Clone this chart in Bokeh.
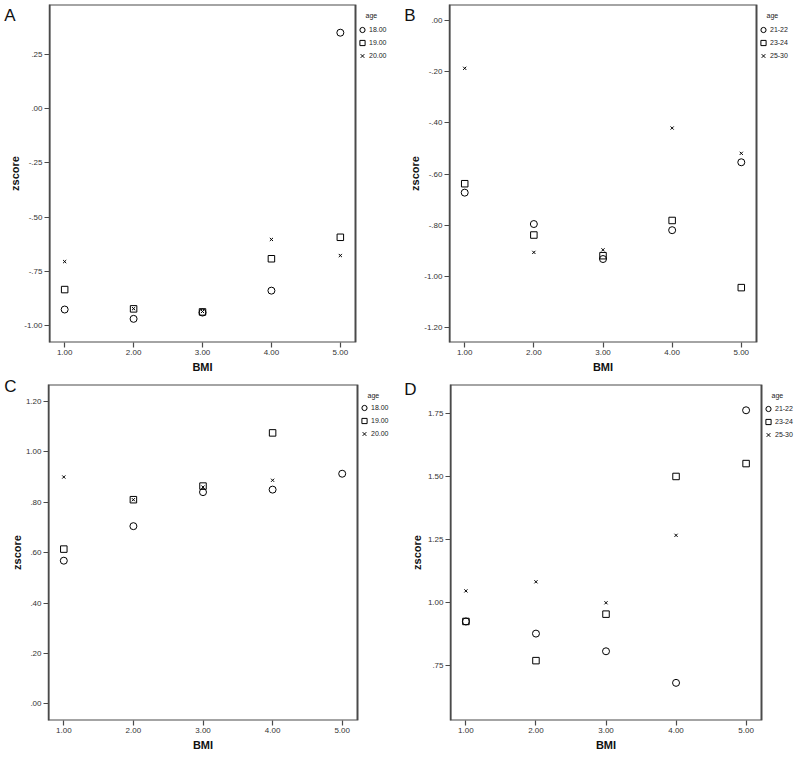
import numpy as np
from bokeh.plotting import figure
from bokeh.models import (Range1d, FixedTicker, Legend, LegendItem, LinearAxis,
                          BoxAnnotation, Label)
from bokeh.layouts import column, row
from bokeh.embed import file_html
from bokeh.resources import INLINE

nan = np.nan

# ---------------- data ----------------
bmi = [1, 2, 3, 4, 5]
x_ticks = [1, 2, 3, 4, 5]
x_tick_labels = ["1.00", "2.00", "3.00", "4.00", "5.00"]

# Panel A (age 18.00 / 19.00 / 20.00)
a_groups = ["18.00", "19.00", "20.00"]
a_circle = [-0.926, -0.969, -0.940, -0.839, 0.350]
a_square = [-0.834, -0.923, -0.937, -0.692, -0.593]
a_cross = [-0.705, -0.922, -0.935, -0.603, -0.677]
a_yticks = [0.25, 0.0, -0.25, -0.50, -0.75, -1.00]
a_ytick_labels = [".25", ".00", "-.25", "-.50", "-.75", "-1.00"]

# Panel B (age 21-22 / 23-24 / 25-30)
b_groups = ["21-22", "23-24", "25-30"]
b_circle = [-0.673, -0.796, -0.933, -0.820, -0.554]
b_square = [-0.638, -0.839, -0.920, -0.782, -1.045]
b_cross = [-0.186, -0.907, -0.897, -0.420, -0.519]
b_yticks = [0.0, -0.2, -0.4, -0.6, -0.8, -1.0, -1.2]
b_ytick_labels = [".00", "-.20", "-.40", "-.60", "-.80", "-1.00", "-1.20"]

# Panel C (age 18.00 / 19.00 / 20.00)
c_groups = ["18.00", "19.00", "20.00"]
c_circle = [0.568, 0.705, 0.840, 0.850, 0.913]
c_square = [0.614, 0.810, 0.864, 1.075, nan]
c_cross = [0.900, 0.810, 0.860, 0.887, nan]
c_yticks = [1.2, 1.0, 0.8, 0.6, 0.4, 0.2, 0.0]
c_ytick_labels = ["1.20", "1.00", ".80", ".60", ".40", ".20", ".00"]

# Panel D (age 21-22 / 23-24 / 25-30)
d_groups = ["21-22", "23-24", "25-30"]
d_circle = [0.926, 0.878, 0.808, 0.683, 1.762]
d_square = [0.926, 0.771, 0.955, 1.500, 1.551]
d_cross = [1.047, 1.083, 1.000, 1.267, nan]
d_yticks = [1.75, 1.50, 1.25, 1.00, 0.75]
d_ytick_labels = ["1.75", "1.50", "1.25", "1.00", ".75"]

# ---------------- styling ----------------
FONT = "Liberation Sans"
FRAME = "#4a4a4a"
X0, X1 = 0.78, 5.22          # visible plot box along BMI
X_MID = 3.0                  # where the "BMI" title sits


def make_panel(letter, groups, circ, sq, cr, yticks, ylabels, y_range,
               w, h, bl, bt, bb, box_right, ylab_standoff, letter_dy):
    fw = w - bl
    fh = h - bt - bb
    bw = box_right - bl
    x_end = X0 + (X1 - X0) * fw / bw   # frame also holds the legend area
    y0, y1 = y_range

    p = figure(width=w, height=h, output_backend="svg", toolbar_location=None,
               x_range=Range1d(X0, x_end), y_range=Range1d(y0, y1),
               min_border_left=bl, min_border_right=0,
               min_border_top=bt, min_border_bottom=bb,
               background_fill_color="white", border_fill_color="white")
    p.xgrid.visible = False
    p.ygrid.visible = False
    p.outline_line_color = None

    p.xaxis.ticker = FixedTicker(ticks=x_ticks)
    p.xaxis.major_label_overrides = {float(t): l for t, l in zip(x_ticks, x_tick_labels)}
    p.yaxis.ticker = FixedTicker(ticks=yticks)
    p.yaxis.major_label_overrides = {float(t): l for t, l in zip(yticks, ylabels)}
    p.yaxis.axis_label = "zscore"
    p.yaxis.axis_label_standoff = ylab_standoff

    for ax in (p.xaxis[0], p.yaxis[0]):
        ax.major_label_text_font = FONT
        ax.major_label_text_font_size = "8px"
        ax.major_label_text_color = "#333333"
        ax.major_label_standoff = 2
        ax.axis_label_text_font = FONT
        ax.axis_label_text_font_size = "11px"
        ax.axis_label_text_font_style = "bold"
        ax.axis_label_text_color = "#111111"
        ax.major_tick_out = 5
        ax.major_tick_in = 0
        ax.minor_tick_out = 0
        ax.minor_tick_in = 0
        ax.axis_line_color = FRAME
        ax.axis_line_width = 1.5
        ax.major_tick_line_color = FRAME
        ax.major_tick_line_width = 1.2
    p.xaxis[0].axis_line_color = None

    # plot box (the frame also holds the legend to its right)
    p.add_layout(BoxAnnotation(left=X0, right=X1, bottom=y0, top=y1,
                               fill_color=None, fill_alpha=0,
                               line_color=FRAME, line_alpha=1.0, line_width=2))

    # "BMI" title centred under the box
    bax = LinearAxis(ticker=FixedTicker(ticks=[X_MID]),
                     major_label_overrides={X_MID: "BMI"},
                     axis_line_color=None, major_tick_line_color=None,
                     minor_tick_line_color=None, major_tick_out=0, major_tick_in=0,
                     minor_tick_out=0, minor_tick_in=0, major_label_standoff=3,
                     major_label_text_font=FONT, major_label_text_font_size="11px",
                     major_label_text_font_style="bold",
                     major_label_text_color="#111111")
    p.add_layout(bax, "below")

    # panel letter (outer left axis, pulled in so it sits above "zscore")
    letter_pos = y1 - letter_dy / fh * (y1 - y0)
    lax = LinearAxis(ticker=FixedTicker(ticks=[letter_pos]),
                     major_label_overrides={letter_pos: letter},
                     axis_line_color=None, major_tick_line_color=None,
                     minor_tick_line_color=None, major_tick_out=0, major_tick_in=0,
                     minor_tick_out=0, minor_tick_in=0, major_label_standoff=-9,
                     major_label_text_font=FONT, major_label_text_font_size="17px",
                     major_label_text_color="#111111")
    p.add_layout(lax, "left")

    r1 = p.scatter(bmi, circ, marker="circle", size=7, fill_color=None,
                   line_color="black", line_width=1)
    r2 = p.scatter(bmi, sq, marker="square", size=6.5, fill_color=None,
                   line_color="black", line_width=1)
    r3 = p.scatter(bmi, cr, marker="x", size=4.5, line_color="black",
                   line_width=1)

    items = [LegendItem(label=g, renderers=[r]) for g, r in zip(groups, [r1, r2, r3])]
    leg = Legend(items=items, location=(bw, fh - 57.5), padding=0, margin=0,
                 spacing=0, glyph_width=14, glyph_height=13, label_standoff=-6,
                 label_height=10, label_text_font=FONT, label_text_font_size="7px",
                 label_text_color="#222222", border_line_color=None,
                 background_fill_alpha=0)
    p.add_layout(leg)

    p.add_layout(Label(x=X1, y=y1, x_offset=10, y_offset=-11, text="age",
                       text_font=FONT, text_font_size="7px", text_color="#222222",
                       text_baseline="middle", text_align="left"))
    return p


pa = make_panel("A", a_groups, a_circle, a_square, a_cross, a_yticks, a_ytick_labels,
                (-1.078, 0.48), 400, 376, 49, 4, 34, 355, 0, 11)
pb = make_panel("B", b_groups, b_circle, b_square, b_cross, b_yticks, b_ytick_labels,
                (-1.26, 0.064), 400, 376, 49, 4, 34, 356, 0, 11)
pc = make_panel("C", c_groups, c_circle, c_square, c_cross, c_yticks, c_ytick_labels,
                (-0.066, 1.267), 400, 384, 48, 8, 38, 357, 0, 1)
pd_ = make_panel("D", d_groups, d_circle, d_square, d_cross, d_yticks, d_ytick_labels,
                 (0.534, 1.864), 400, 384, 50, 7, 40, 361, 2, 5)

layout = column(row(pa, pb), row(pc, pd_))

with open("out.html", "w") as f:
    f.write(file_html(layout, INLINE))
